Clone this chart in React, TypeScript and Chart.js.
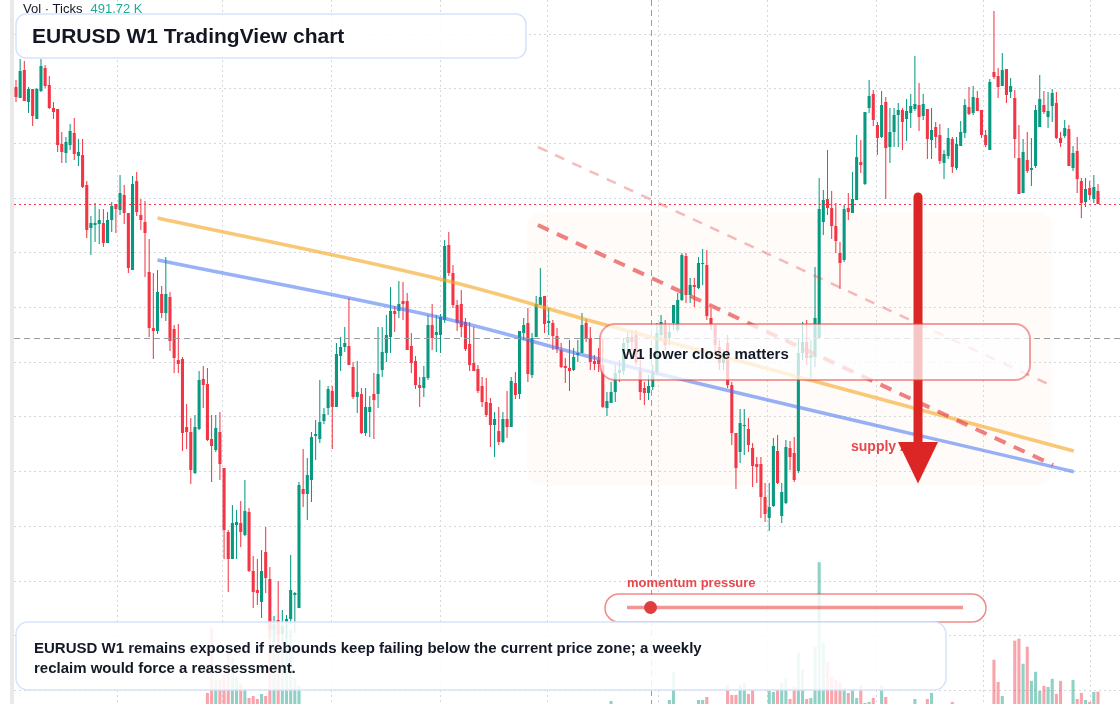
import React, { useEffect, useRef } from "react";
import { Chart, registerables } from "chart.js";

Chart.register(...registerables);

// ---------- weekly OHLC (EURUSD W1), oldest -> newest ----------
const opens = [
  1.413,1.402,1.430,1.398,1.411,1.381,1.409,1.432,1.415,1.392,
  1.391,1.356,1.347,1.355,1.367,1.344,1.345,1.315,1.272,1.275,
  1.276,1.277,1.257,1.280,1.296,1.290,1.305,1.287,1.230,1.319,
  1.285,1.278,1.228,1.172,1.169,1.206,1.187,1.203,1.171,1.140,
  1.141,1.073,1.068,1.027,1.071,1.121,1.116,1.061,1.050,1.068,
  1.032,0.968,0.941,0.975,0.977,0.965,0.988,0.929,0.910,0.898,
  0.948,0.921,0.870,0.880,0.866,0.878,0.881,0.905,0.892,1.011,
  1.006,1.020,1.064,1.061,1.079,1.092,1.109,1.093,1.144,1.153,
  1.154,1.133,1.103,1.106,1.067,1.088,1.106,1.106,1.130,1.147,
  1.163,1.189,1.189,1.199,1.199,1.154,1.139,1.115,1.112,1.122,
  1.175,1.165,1.165,1.180,1.255,1.227,1.195,1.196,1.178,1.156,
  1.137,1.131,1.114,1.098,1.097,1.075,1.069,1.058,1.081,1.073,
  1.117,1.106,1.167,1.177,1.125,1.163,1.195,1.204,1.177,1.177,
  1.164,1.150,1.134,1.132,1.130,1.145,1.147,1.177,1.162,1.139,
  1.140,1.135,1.092,1.097,1.108,1.127,1.129,1.157,1.163,1.165,
  1.129,1.112,1.107,1.113,1.128,1.165,1.175,1.162,1.177,1.170,
  1.200,1.244,1.205,1.215,1.212,1.236,1.235,1.182,1.175,1.153,
  1.137,1.157,1.115,1.067,1.048,1.074,1.071,1.052,1.036,1.036,
  1.003,0.982,0.994,1.049,0.984,0.997,1.052,1.047,1.029,1.147,
  1.158,1.142,1.143,1.162,1.278,1.301,1.292,1.274,1.247,1.240,
  1.292,1.287,1.300,1.338,1.316,1.392,1.406,1.375,1.363,1.398,
  1.353,1.368,1.385,1.390,1.381,1.387,1.391,1.395,1.384,1.391,
  1.360,1.373,1.365,1.337,1.344,1.361,1.332,1.354,1.367,1.393,
  1.387,1.402,1.390,1.365,1.350,1.428,1.424,1.414,1.431,1.408,
  1.402,1.342,1.307,1.340,1.330,1.334,1.373,1.395,1.383,1.394,
  1.397,1.362,1.364,1.371,1.332,1.349,1.319,1.298,1.312,1.301,
  1.309,
];

const highs = [
  1.420,1.441,1.439,1.413,1.411,1.412,1.441,1.435,1.424,1.398,
  1.391,1.368,1.363,1.376,1.382,1.361,1.361,1.319,1.284,1.297,
  1.291,1.291,1.288,1.298,1.296,1.325,1.315,1.287,1.324,1.328,
  1.301,1.299,1.261,1.227,1.230,1.214,1.243,1.208,1.175,1.176,
  1.143,1.096,1.082,1.085,1.129,1.134,1.132,1.085,1.085,1.088,
  1.032,0.970,0.995,0.990,0.999,1.020,0.992,0.944,0.941,0.950,
  0.973,0.933,0.884,0.919,0.890,0.885,0.945,0.908,1.018,1.051,
  1.042,1.068,1.080,1.120,1.092,1.114,1.114,1.157,1.163,1.173,
  1.202,1.138,1.139,1.112,1.112,1.104,1.127,1.173,1.173,1.185,
  1.213,1.194,1.219,1.218,1.207,1.167,1.144,1.123,1.134,1.185,
  1.196,1.185,1.186,1.260,1.268,1.235,1.200,1.210,1.182,1.178,
  1.173,1.135,1.123,1.122,1.102,1.088,1.093,1.088,1.109,1.123,
  1.128,1.169,1.182,1.192,1.167,1.204,1.232,1.204,1.192,1.180,
  1.172,1.157,1.142,1.160,1.152,1.160,1.187,1.181,1.173,1.145,
  1.152,1.162,1.108,1.118,1.135,1.140,1.162,1.168,1.170,1.170,
  1.140,1.118,1.125,1.135,1.177,1.185,1.180,1.175,1.195,1.207,
  1.247,1.247,1.222,1.222,1.243,1.251,1.250,1.192,1.175,1.160,
  1.150,1.165,1.118,1.067,1.091,1.091,1.082,1.057,1.043,1.043,
  1.017,1.017,1.062,1.065,1.017,1.060,1.059,1.063,1.162,1.178,
  1.180,1.160,1.233,1.322,1.310,1.350,1.309,1.297,1.258,1.295,
  1.307,1.328,1.365,1.360,1.388,1.420,1.410,1.378,1.409,1.403,
  1.392,1.392,1.397,1.392,1.401,1.406,1.444,1.417,1.406,1.391,
  1.392,1.378,1.376,1.350,1.372,1.363,1.363,1.379,1.401,1.413,
  1.414,1.409,1.390,1.370,1.421,1.489,1.432,1.447,1.431,1.422,
  1.410,1.375,1.361,1.368,1.362,1.395,1.425,1.409,1.408,1.411,
  1.408,1.368,1.380,1.375,1.354,1.363,1.322,1.322,1.319,1.325,
  1.316,
];

const lows = [
  1.398,1.402,1.399,1.387,1.374,1.381,1.408,1.412,1.391,1.381,
  1.348,1.337,1.337,1.350,1.340,1.334,1.312,1.262,1.245,1.258,
  1.256,1.253,1.257,1.268,1.267,1.285,1.276,1.227,1.230,1.284,
  1.270,1.223,1.163,1.141,1.166,1.182,1.179,1.149,1.127,1.127,
  1.049,1.051,1.016,1.026,1.070,1.092,1.059,1.018,1.048,1.020,
  0.941,0.908,0.941,0.941,0.953,0.964,0.928,0.892,0.895,0.882,
  0.907,0.862,0.858,0.850,0.856,0.862,0.878,0.867,0.892,0.993,
  0.980,0.998,1.040,1.057,1.076,1.085,1.051,1.093,1.129,1.148,
  1.135,1.101,1.087,1.066,1.064,1.063,1.061,1.092,1.123,1.138,
  1.147,1.168,1.182,1.180,1.150,1.127,1.111,1.093,1.103,1.120,
  1.150,1.148,1.147,1.177,1.224,1.192,1.169,1.163,1.149,1.129,
  1.129,1.107,1.093,1.083,1.053,1.043,1.055,1.057,1.062,1.073,
  1.101,1.101,1.160,1.118,1.122,1.163,1.195,1.167,1.165,1.150,
  1.147,1.132,1.117,1.109,1.129,1.138,1.147,1.158,1.130,1.130,
  1.128,1.092,1.084,1.097,1.098,1.118,1.125,1.150,1.150,1.135,
  1.100,1.095,1.100,1.110,1.125,1.160,1.150,1.155,1.170,1.168,
  1.199,1.197,1.197,1.193,1.211,1.215,1.180,1.170,1.148,1.130,
  1.130,1.112,1.055,1.011,1.037,1.045,1.048,1.013,1.017,0.982,
  0.978,0.969,0.993,1.016,0.977,0.996,1.030,1.018,1.027,1.140,
  1.135,1.122,1.133,1.162,1.265,1.285,1.261,1.247,1.211,1.238,
  1.280,1.287,1.300,1.327,1.315,1.387,1.374,1.345,1.362,1.301,
  1.337,1.353,1.353,1.350,1.359,1.372,1.389,1.369,1.380,1.341,
  1.341,1.352,1.336,1.321,1.341,1.327,1.330,1.354,1.362,1.385,
  1.385,1.389,1.362,1.353,1.350,1.421,1.402,1.414,1.397,1.402,
  1.342,1.306,1.307,1.327,1.314,1.332,1.373,1.386,1.372,1.378,
  1.361,1.353,1.362,1.334,1.329,1.307,1.282,1.293,1.300,1.297,
  1.296,
];

const closes = [
  1.403,1.429,1.399,1.411,1.384,1.411,1.434,1.414,1.392,1.388,
  1.355,1.348,1.358,1.369,1.346,1.348,1.313,1.270,1.277,1.277,
  1.280,1.257,1.280,1.294,1.291,1.307,1.287,1.232,1.316,1.288,
  1.280,1.267,1.172,1.169,1.208,1.187,1.206,1.159,1.142,1.136,
  1.067,1.068,1.030,1.073,1.120,1.115,1.060,1.054,1.072,1.036,
  0.970,0.941,0.977,0.978,0.968,0.989,0.929,0.908,0.907,0.929,
  0.922,0.870,0.876,0.866,0.874,0.881,0.910,0.907,1.015,1.006,
  1.025,1.063,1.066,1.078,1.086,1.111,1.093,1.146,1.153,1.157,
  1.135,1.103,1.108,1.067,1.093,1.093,1.100,1.126,1.148,1.165,
  1.189,1.186,1.196,1.196,1.150,1.137,1.115,1.112,1.123,1.175,
  1.162,1.168,1.183,1.254,1.227,1.195,1.177,1.173,1.151,1.135,
  1.129,1.109,1.098,1.085,1.075,1.081,1.058,1.081,1.073,1.119,
  1.105,1.169,1.175,1.126,1.162,1.196,1.203,1.176,1.179,1.164,
  1.151,1.133,1.132,1.129,1.143,1.147,1.175,1.162,1.138,1.136,
  1.136,1.093,1.099,1.108,1.127,1.130,1.157,1.163,1.158,1.138,
  1.108,1.107,1.114,1.128,1.167,1.178,1.155,1.168,1.195,1.200,
  1.245,1.205,1.215,1.213,1.237,1.237,1.184,1.176,1.155,1.137,
  1.147,1.115,1.067,1.032,1.077,1.075,1.055,1.034,1.033,1.003,
  0.986,0.993,1.054,1.017,1.008,1.053,1.043,1.020,1.147,1.158,
  1.142,1.145,1.182,1.291,1.300,1.292,1.274,1.259,1.237,1.291,
  1.288,1.301,1.343,1.335,1.388,1.404,1.380,1.362,1.395,1.352,
  1.368,1.385,1.390,1.378,1.389,1.394,1.396,1.383,1.396,1.361,
  1.370,1.363,1.339,1.346,1.362,1.333,1.356,1.368,1.395,1.386,
  1.403,1.389,1.365,1.355,1.418,1.423,1.413,1.430,1.405,1.414,
  1.361,1.306,1.348,1.329,1.332,1.390,1.401,1.388,1.389,1.407,
  1.362,1.357,1.372,1.334,1.347,1.321,1.297,1.311,1.305,1.313,
  1.296,
];

// tick volume, thousands
const volumes = [
  0,0,0,0,0,0,0,0,0,0,
  0,0,0,0,0,0,0,0,0,0,
  0,0,0,0,0,0,0,0,0,0,
  0,0,0,0,0,0,0,0,0,0,
  0,0,0,0,0,0,440,3040,960,960,
  1160,2040,1840,1080,800,600,240,320,200,400,
  320,3200,3000,2880,2280,3200,2960,1040,720,0,
  0,0,0,0,0,0,0,0,0,0,
  0,0,0,0,0,0,0,0,0,0,
  0,0,0,0,0,0,0,0,0,0,
  0,0,0,0,0,0,0,0,0,0,
  0,0,0,0,0,0,0,0,0,0,
  0,0,0,0,0,0,0,0,0,0,
  0,0,0,0,0,0,0,0,0,0,
  0,0,0,120,0,0,0,0,0,0,
  0,0,0,0,0,0,0,160,1280,0,
  0,0,0,0,160,160,280,0,0,0,
  0,760,360,360,760,840,400,560,0,0,
  0,520,480,560,840,1040,200,680,2040,1360,
  200,240,2280,5640,2440,1680,1080,960,880,640,
  440,560,240,720,40,80,240,0,720,280,
  0,0,0,0,0,0,200,0,0,200,
  440,0,0,0,0,80,0,0,0,0,
  0,0,0,0,0,1760,880,320,0,0,
  2520,2600,1600,2280,920,1280,520,720,680,1000,
  400,920,0,0,960,200,440,160,80,480,
  491.72,
];

// ---------- drawn studies (week index, price) ----------
const orangeTrend = [
  { x: 34, y: 1.282 }, { x: 105, y: 1.2177 }, { x: 140, y: 1.177 }, { x: 254.2, y: 1.049 },
];
const blueTrend = [
  { x: 34, y: 1.240 }, { x: 105, y: 1.1795 }, { x: 140, y: 1.141 }, { x: 254.2, y: 1.0283 },
];
const redChannelMain = [{ x: 125.4, y: 1.275 }, { x: 249.2, y: 1.035 }];
const redChannelUpper = [{ x: 125.4, y: 1.353 }, { x: 249.0, y: 1.114 }];

const supplyZone = { from: 122.8, to: 249.0, top: 1.288, bottom: 1.015 };
const arrowSignal = { week: 216.75, from: 1.303, headBase: 1.058, tip: 1.0165 };
const crosshair = { week: 152.65, price: 1.162 };
const momentumValue = 0.07;

const gridWeeks = [24.3, 49.7, 75.9, 101.9, 127.8, 154.3, 180.7, 206.7, 232.4, 258.1];
const gridPrices = [1.466, 1.4113, 1.3566, 1.3019, 1.2472, 1.1925, 1.1378, 1.0831, 1.0284, 0.9737, 0.919, 0.8643, 0.8096];

const titleText = "EURUSD W1 TradingView chart";
const noteLines = [
  "EURUSD W1 remains exposed if rebounds keep failing below the current price zone; a weekly",
  "reclaim would force a reassessment.",
];
const calloutText = "W1 lower close matters";
const supplyText = "supply zone";
const momentumText = "momentum pressure";

const UP = "#089981";
const DOWN = "#f23645";
const FONT = '"Liberation Sans", Arial, Helvetica, sans-serif';

// x-axis framing: first candle at 16px, last at 1098px, plot starts at 14px
const SPACING = (1098 - 16) / (closes.length - 1);
const X_MIN = -2 / SPACING;
const X_MAX = X_MIN + 1106 / SPACING;

function rr(ctx: CanvasRenderingContext2D, x: number, y: number, w: number, h: number, r: number) {
  ctx.beginPath();
  ctx.moveTo(x + r, y);
  ctx.arcTo(x + w, y, x + w, y + h, r);
  ctx.arcTo(x + w, y + h, x, y + h, r);
  ctx.arcTo(x, y + h, x, y, r);
  ctx.arcTo(x, y, x + w, y, r);
  ctx.closePath();
}

const overlay = {
  id: "overlay",
  beforeDraw(chart: any) {
    const { ctx } = chart;
    const xs = chart.scales.x;
    const ys = chart.scales.y;
    ctx.save();
    ctx.fillStyle = "#ffffff";
    ctx.fillRect(0, 0, chart.width, chart.height);
    ctx.fillStyle = "#e9e9ea";
    ctx.fillRect(10, 0, 4, chart.height);
    const zx1 = xs.getPixelForValue(supplyZone.from);
    const zx2 = xs.getPixelForValue(supplyZone.to);
    const zy1 = ys.getPixelForValue(supplyZone.top);
    const zy2 = ys.getPixelForValue(supplyZone.bottom);
    rr(ctx, zx1, zy1, zx2 - zx1, zy2 - zy1, 15);
    ctx.fillStyle = "rgba(240, 200, 160, 0.065)";
    ctx.fill();
    ctx.restore();
  },
  afterDatasetsDraw(chart: any) {
    const { ctx } = chart;
    const xs = chart.scales.x;
    const ys = chart.scales.y;
    const W = chart.width;
    const H = chart.height;
    ctx.save();

    // crosshair
    ctx.strokeStyle = "#9a9ca3";
    ctx.lineWidth = 1;
    ctx.setLineDash([6, 4]);
    const cy = Math.round(ys.getPixelForValue(crosshair.price)) + 0.5;
    ctx.beginPath();
    ctx.moveTo(14, cy);
    ctx.lineTo(W, cy);
    ctx.stroke();
    const cx = Math.round(xs.getPixelForValue(crosshair.week)) + 0.5;
    ctx.beginPath();
    ctx.moveTo(cx, 0);
    ctx.lineTo(cx, H);
    ctx.stroke();

    // last price line
    const py = Math.round(ys.getPixelForValue(closes[closes.length - 1])) + 0.5;
    ctx.strokeStyle = DOWN;
    ctx.setLineDash([2, 3]);
    ctx.beginPath();
    ctx.moveTo(14, py);
    ctx.lineTo(W, py);
    ctx.stroke();
    ctx.setLineDash([]);

    // supply label
    ctx.fillStyle = "#e5484d";
    ctx.font = `bold 14px ${FONT}`;
    ctx.textBaseline = "alphabetic";
    ctx.fillText(supplyText, 851, 451);

    // arrow
    const ax = xs.getPixelForValue(arrowSignal.week);
    const ay1 = ys.getPixelForValue(arrowSignal.from);
    const ayb = ys.getPixelForValue(arrowSignal.headBase);
    const ayt = ys.getPixelForValue(arrowSignal.tip);
    ctx.strokeStyle = "#dc2626";
    ctx.fillStyle = "#dc2626";
    ctx.lineWidth = 9;
    ctx.lineCap = "round";
    ctx.beginPath();
    ctx.moveTo(ax, ay1);
    ctx.lineTo(ax, ayb + 2);
    ctx.stroke();
    ctx.beginPath();
    ctx.moveTo(ax - 20, ayb);
    ctx.lineTo(ax + 20, ayb);
    ctx.lineTo(ax, ayt);
    ctx.closePath();
    ctx.fill();
    ctx.lineCap = "butt";

    // callout box
    rr(ctx, 600, 324, 430, 56, 15);
    ctx.fillStyle = "rgba(255,255,255,0.74)";
    ctx.fill();
    ctx.strokeStyle = "rgba(229,62,62,0.5)";
    ctx.lineWidth = 2;
    ctx.stroke();
    ctx.fillStyle = "#131a26";
    ctx.font = `bold 15px ${FONT}`;
    ctx.fillText(calloutText, 622, 359);

    // momentum gauge
    ctx.fillStyle = "#e5484d";
    ctx.font = `bold 13px ${FONT}`;
    ctx.fillText(momentumText, 627, 587);
    rr(ctx, 605, 594, 381, 28, 14);
    ctx.fillStyle = "rgba(255,255,255,0.8)";
    ctx.fill();
    ctx.strokeStyle = "rgba(229,62,62,0.6)";
    ctx.lineWidth = 1.5;
    ctx.stroke();
    const t0 = 627;
    const t1 = 963;
    ctx.strokeStyle = "rgba(229,62,62,0.55)";
    ctx.lineWidth = 3.5;
    ctx.beginPath();
    ctx.moveTo(t0, 607.5);
    ctx.lineTo(t1, 607.5);
    ctx.stroke();
    ctx.fillStyle = "#e03e3e";
    ctx.beginPath();
    ctx.arc(t0 + momentumValue * (t1 - t0), 607.5, 6.5, 0, Math.PI * 2);
    ctx.fill();

    // title box
    rr(ctx, 16, 14, 510, 44, 10);
    ctx.fillStyle = "rgba(255,255,255,0.88)";
    ctx.fill();
    ctx.strokeStyle = "#d6e3fa";
    ctx.lineWidth = 1.5;
    ctx.stroke();
    ctx.fillStyle = "#131722";
    ctx.font = `bold 21px ${FONT}`;
    ctx.fillText(titleText, 32, 43);

    // volume legend
    ctx.font = `13px ${FONT}`;
    ctx.fillStyle = "#131722";
    const volLabel = "Vol · Ticks";
    ctx.fillText(volLabel, 23, 13);
    const wv = ctx.measureText(volLabel).width;
    ctx.fillStyle = "#22ab94";
    ctx.fillText(`${volumes[volumes.length - 1].toFixed(2)} K`, 23 + wv + 8, 13);

    // note box
    rr(ctx, 16, 622, 930, 68, 12);
    ctx.fillStyle = "rgba(255,255,255,0.86)";
    ctx.fill();
    ctx.strokeStyle = "#d6e3fa";
    ctx.lineWidth = 1.5;
    ctx.stroke();
    ctx.fillStyle = "#131a26";
    ctx.font = `bold 15px ${FONT}`;
    noteLines.forEach((l, i) => ctx.fillText(l, 34, 653 + i * 20));

    ctx.restore();
  },
};

export default function App() {
  const ref = useRef<HTMLCanvasElement | null>(null);

  useEffect(() => {
    if (!ref.current) return;
    const idx = closes.map((_, i) => i);
    const colors = closes.map((c, i) => (c >= opens[i] ? UP : DOWN));
    const volColors = closes.map((c, i) =>
      c >= opens[i] ? "rgba(8,153,129,0.45)" : "rgba(242,54,69,0.45)"
    );
    const gridStyle = { color: "#d4d7dc", drawTicks: false, lineWidth: 1, offset: false };

    const chart = new Chart(ref.current, {
      type: "bar",
      data: {
        datasets: [
          {
            type: "line",
            data: orangeTrend,
            borderColor: "rgba(246,166,35,0.62)",
            borderWidth: 3.5,
            pointRadius: 0,
            tension: 0.4,
            cubicInterpolationMode: "monotone",
            order: 1,
          } as any,
          {
            type: "line",
            data: blueTrend,
            borderColor: "rgba(66,115,240,0.55)",
            borderWidth: 3.5,
            pointRadius: 0,
            tension: 0.4,
            cubicInterpolationMode: "monotone",
            order: 1,
          } as any,
          {
            type: "line",
            data: redChannelMain,
            borderColor: "rgba(229,62,62,0.65)",
            borderWidth: 4,
            borderDash: [12, 9],
            pointRadius: 0,
            order: 0,
          } as any,
          {
            type: "line",
            data: redChannelUpper,
            borderColor: "rgba(229,62,62,0.35)",
            borderWidth: 2.5,
            borderDash: [10, 9],
            pointRadius: 0,
            order: 0,
          } as any,
          {
            type: "bar",
            data: idx.map((i) => ({ x: i, y: [opens[i], closes[i]] })),
            backgroundColor: colors,
            grouped: false,
            categoryPercentage: 1,
            barPercentage: 0.74,
            minBarLength: 1,
            order: 3,
          } as any,
          {
            type: "bar",
            data: idx.map((i) => ({ x: i, y: [lows[i], highs[i]] })),
            backgroundColor: colors,
            grouped: false,
            categoryPercentage: 1,
            barPercentage: 0.25,
            order: 4,
          } as any,
          {
            type: "bar",
            yAxisID: "yVol",
            data: idx.map((i) => ({ x: i, y: volumes[i] })),
            backgroundColor: volColors,
            grouped: false,
            categoryPercentage: 1,
            barPercentage: 0.74,
            order: 5,
          } as any,
        ],
      },
      options: {
        animation: false,
        responsive: false,
        devicePixelRatio: 1,
        events: [],
        layout: { padding: { left: 14, right: 0, top: 0, bottom: 0 }, autoPadding: false } as any,
        plugins: { legend: { display: false }, tooltip: { enabled: false } },
        scales: {
          x: {
            type: "linear",
            min: X_MIN,
            max: X_MAX,
            offset: false,
            grid: gridStyle,
            border: { display: false, dash: [2, 3] },
            ticks: { display: false },
            afterBuildTicks: (s: any) => {
              s.ticks = gridWeeks.map((v) => ({ value: v }));
            },
          },
          y: {
            type: "linear",
            min: 0.796,
            max: 1.5,
            grid: gridStyle,
            border: { display: false, dash: [2, 3] },
            ticks: { display: false },
            afterBuildTicks: (s: any) => {
              s.ticks = gridPrices.map((v) => ({ value: v }));
            },
          },
          yVol: { type: "linear", display: false, min: 0, max: 28000 },
        } as any,
      },
      plugins: [overlay],
    });
    return () => chart.destroy();
  }, []);

  return (
    <div style={{ position: "absolute", left: 0, top: 0, width: 1120, height: 704 }}>
      <canvas ref={ref} width={1120} height={704} style={{ display: "block" }} />
    </div>
  );
}
